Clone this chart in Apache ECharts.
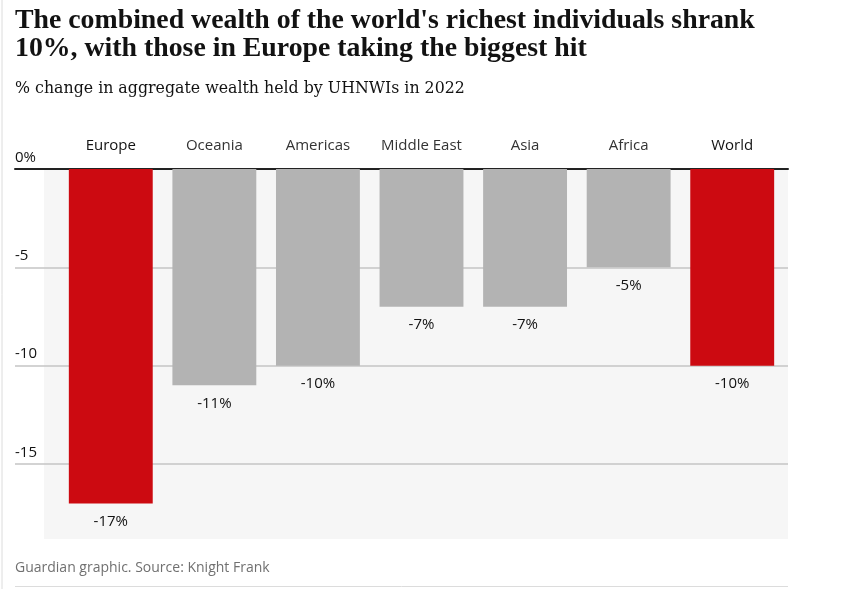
<!DOCTYPE html>
<html>
<head>
<meta charset="utf-8">
<script src="https://cdn.jsdelivr.net/npm/echarts@6/dist/echarts.min.js"></script>
<style>
  html, body { margin: 0; padding: 0; background: #fff; }
  #chart { width: 859px; height: 589px; }
</style>
</head>
<body>
<div id="chart"></div>
<script>
// data
var regions = ['Europe', 'Oceania', 'Americas', 'Middle East', 'Asia', 'Africa', 'World'];
var changes = [-17, -11, -10, -7, -7, -5, -10];
var highlight = ['Europe', 'World'];
var yTicks = [0, -5, -10, -15];

var RED = '#cc0a11';
var GREY = '#b3b3b3';

var myChart = echarts.init(document.getElementById('chart'));

var option = {
  backgroundColor: '#ffffff',
  animation: false,
  title: [
    {
      text: "The combined wealth of the world's richest individuals shrank\n10%, with those in Europe taking the biggest hit",
      left: 15,
      top: 7,
      padding: 0,
      textStyle: {
        fontFamily: 'Liberation Serif',
        fontWeight: 'bold',
        fontSize: 27.8,
        lineHeight: 28,
        color: '#121212'
      }
    },
    {
      text: '% change in aggregate wealth held by UHNWIs in 2022',
      left: 15,
      top: 81,
      padding: 0,
      textStyle: {
        fontFamily: 'DejaVu Serif',
        fontWeight: 'normal',
        fontSize: 15.8,
        color: '#121212'
      }
    },
    {
      text: 'Guardian graphic. Source: Knight Frank',
      left: 15,
      top: 561,
      padding: 0,
      textStyle: {
        fontFamily: 'Open Sans',
        fontWeight: 'normal',
        fontSize: 14,
        color: '#707070'
      }
    }
  ],
  graphic: [
    { type: 'rect', z: -10, shape: { x: 44, y: 170, width: 744, height: 369 }, style: { fill: '#f6f6f6' } },
    { type: 'line', shape: { x1: 2, y1: 0, x2: 2, y2: 589 }, style: { stroke: '#dcdcdc', lineWidth: 1 } },
    { type: 'line', shape: { x1: 15, y1: 586.5, x2: 788, y2: 586.5 }, style: { stroke: '#dcdcdc', lineWidth: 1 } }
  ],
  grid: [
    { left: 15, right: 71, top: 169, height: 393.4 },
    { left: 59, right: 75, top: 169, height: 393.4 }
  ],
  xAxis: [
    {
      gridIndex: 0,
      type: 'value',
      position: 'top',
      min: 0,
      max: 1,
      axisLine: { show: true, onZero: false, lineStyle: { color: '#222', width: 2 } },
      axisTick: { show: false },
      axisLabel: { show: false },
      splitLine: { show: false }
    },
    {
      gridIndex: 1,
      type: 'category',
      position: 'top',
      data: regions,
      axisLine: { show: false },
      axisTick: { show: false },
      axisLabel: {
        interval: 0,
        margin: 16,
        fontFamily: 'Open Sans',
        fontSize: 15,
        formatter: function (v) {
          return highlight.indexOf(v) >= 0 ? '{hi|' + v + '}' : v;
        },
        color: '#333',
        rich: {
          hi: { fontFamily: 'Open Sans', fontSize: 15, fontWeight: 500, color: '#121212' }
        }
      }
    }
  ],
  yAxis: [
    {
      gridIndex: 0,
      type: 'value',
      min: -20,
      max: 0,
      interval: 5,
      axisLine: { show: false },
      axisTick: { show: false },
      axisLabel: {
        inside: true,
        margin: 0,
        showMinLabel: false,
        verticalAlign: 'bottom',
        padding: [0, 0, 4, 0],
        fontFamily: 'Open Sans',
        fontSize: 15,
        color: '#121212',
        formatter: function (v) {
          if (yTicks.indexOf(v) < 0) return '';
          return v === 0 ? '0%' : String(v);
        }
      },
      splitLine: {
        show: true,
        showMinLine: false,
        showMaxLine: false,
        lineStyle: { color: '#c4c4c4', width: 1.5 }
      }
    },
    {
      gridIndex: 1,
      type: 'value',
      min: -20,
      max: 0,
      interval: 5,
      show: false,
      splitLine: { show: false }
    }
  ],
  series: [
    {
      type: 'bar',
      xAxisIndex: 1,
      yAxisIndex: 1,
      barCategoryGap: '19%',
      data: changes.map(function (v, i) {
        return {
          value: v,
          itemStyle: { color: highlight.indexOf(regions[i]) >= 0 ? RED : GREY }
        };
      }),
      label: {
        show: true,
        position: 'bottom',
        distance: 11,
        fontFamily: 'Open Sans',
        fontSize: 15,
        color: '#121212',
        formatter: function (p) { return p.value + '%'; }
      }
    }
  ]
};

myChart.setOption(option);
</script>
</body>
</html>
